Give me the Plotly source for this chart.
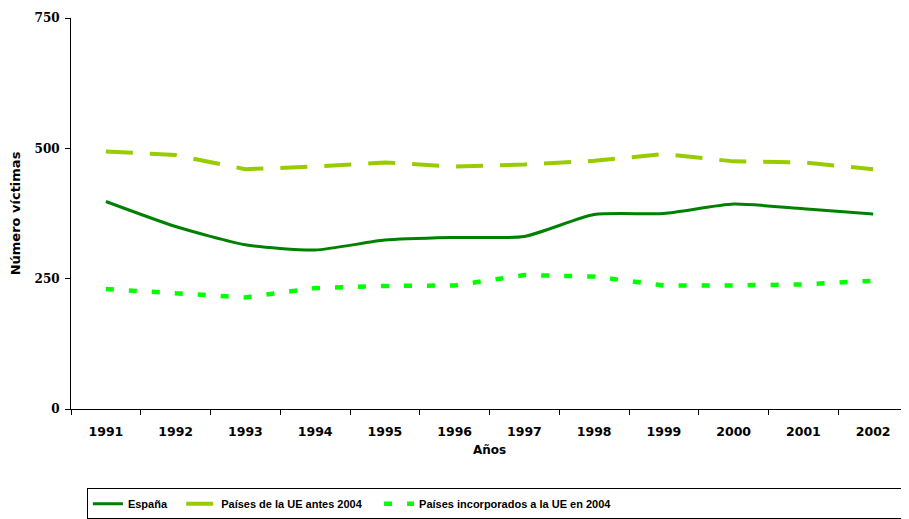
import plotly.graph_objects as go

years = ["1991", "1992", "1993", "1994", "1995", "1996", "1997", "1998", "1999", "2000", "2001", "2002"]
espana = [398, 350, 315, 305, 324, 329, 331, 373, 375, 393, 384, 374]
ue_antes = [494, 487, 460, 465, 473, 465, 469, 476, 489, 475, 473, 460]
ue_2004 = [230, 223, 214, 232, 236, 237, 257, 254, 237, 237, 239, 246]
names = ["España", "Países de la UE antes 2004", "Países incorporados a la UE en 2004"]

sans = "DejaVu Sans, sans-serif"
serif = "DejaVu Serif, serif"
legfont = "Liberation Sans, Arial, sans-serif"
nb = "\u00a0"

fig = go.Figure()
fig.add_trace(go.Scatter(x=years, y=espana, mode="lines", name=names[0] + nb * 3,
                         line=dict(color="#008000", width=3, shape="spline", smoothing=0.6)))
fig.add_trace(go.Scatter(x=years, y=ue_antes, mode="lines", name=names[1] + nb * 4,
                         line=dict(color="#99CC00", width=4, dash="27px,17px")))
fig.add_trace(go.Scatter(x=years, y=ue_2004, mode="lines", name=names[2] + nb * 96,
                         line=dict(color="#00FF00", width=4.5, dash="8px,15px")))

fig.update_layout(
    width=901, height=511,
    margin=dict(l=63, r=1, t=10, b=110, autoexpand=False),
    paper_bgcolor="white", plot_bgcolor="white",
    showlegend=True,
    legend=dict(orientation="h", x=0.019, y=-0.203, xanchor="left", yanchor="top",
                bordercolor="black", borderwidth=1, bgcolor="white",
                font=dict(family=legfont, size=11, color="black", weight="bold"),
                tracegroupgap=0),
    xaxis=dict(type="category", range=[-0.5, 11.5], tickson="boundaries",
               ticks="outside", ticklen=5, tickcolor="black", showline=True,
               linecolor="black", linewidth=1, showgrid=False, zeroline=False,
               automargin=False, ticklabelstandoff=11,
               tickfont=dict(family=sans, size=12.5, color="black", weight="bold"),
               title=dict(text="Años", font=dict(family=sans, size=12, color="black", weight="bold"),
                          standoff=7)),
    yaxis=dict(range=[0, 750], tickvals=[0, 250, 500, 750], ticks="outside", ticklen=5,
               tickcolor="black", showline=True, linecolor="black", linewidth=1,
               showgrid=False, zeroline=False, automargin=False, ticklabelstandoff=3,
               tickfont=dict(family=serif, size=12, color="black", weight="bold"),
               title=dict(text="Número víctimas", font=dict(family=sans, size=13, color="black", weight="bold"),
                          standoff=12)),
)

fig.write_html("out.html")
